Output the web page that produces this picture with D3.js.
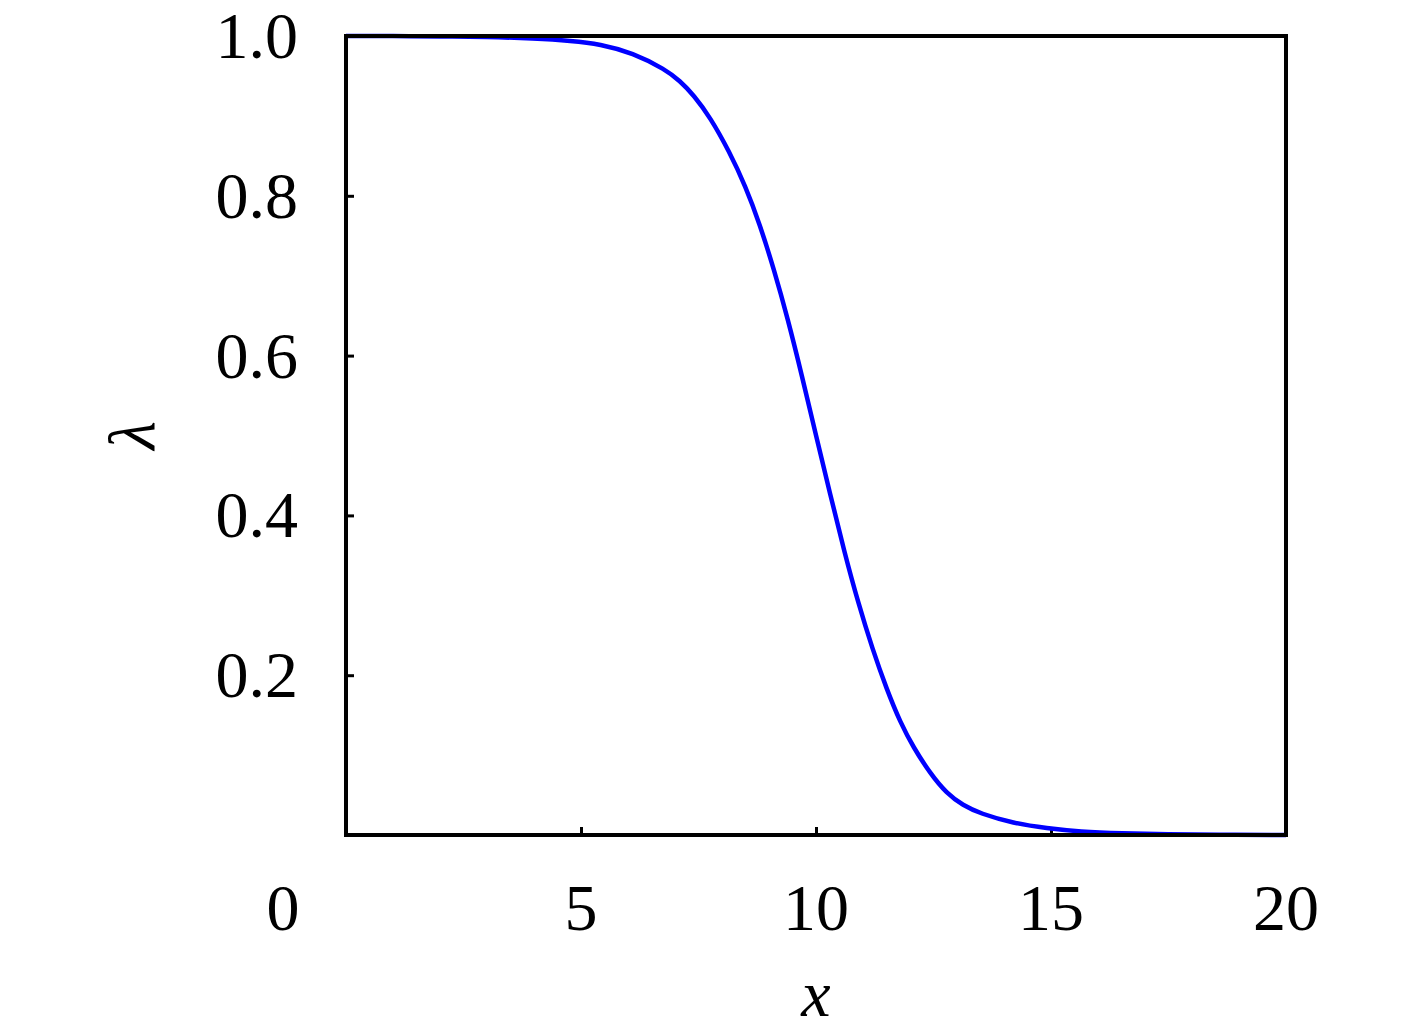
<!DOCTYPE html>
<html>
<head>
<meta charset="utf-8">
<script src="https://cdn.jsdelivr.net/npm/d3@7"></script>
<style>
  body { margin: 0; background: #fff; }
  text { font-family: "Liberation Serif", "DejaVu Serif", serif; fill: #000; }
</style>
</head>
<body>
<div class="chart"></div>
<script>
// values
const xValues = [0, 1, 2, 3, 4, 4.8, 5.4, 6.1, 6.8, 7.1, 7.4, 7.75, 8.15, 8.5, 8.8, 9.1, 9.4, 9.7,
                 10.0, 10.3, 10.6, 10.9, 11.2, 11.5, 11.8, 12.07, 12.43, 12.78, 13.13, 13.49,
                 14.2, 14.91, 15.62, 16.5, 17.5, 18.5, 20];
const lambdaValues = [1.0, 1.0, 0.9995, 0.999, 0.997, 0.994, 0.99, 0.979, 0.958, 0.944, 0.926, 0.898, 0.856,
                      0.812, 0.765, 0.709, 0.646, 0.575, 0.5, 0.427, 0.355, 0.29, 0.233, 0.183, 0.14,
                      0.11, 0.077, 0.052, 0.037, 0.027, 0.0146, 0.0084, 0.004, 0.002, 0.001, 0.0004, 0.0];
const xTicks = [5, 10, 15];
const xTickLabels = [0, 5, 10, 15, 20];
const yTicks = [0.2, 0.4, 0.6, 0.8];
const yTickLabels = [0.2, 0.4, 0.6, 0.8, 1.0];

const width = 1417, height = 1033;
const margin = {top: 36, right: 131, bottom: 198, left: 346};

const svg = d3.select(".chart").append("svg")
    .attr("width", width)
    .attr("height", height);

const xScale = d3.scaleLinear().domain([0, 20]).range([margin.left, width - margin.right]);
const yScale = d3.scaleLinear().domain([0, 1]).range([height - margin.bottom, margin.top]);

// tick marks pointing inward
svg.append("g")
    .attr("transform", "translate(0," + yScale(0) + ")")
    .call(d3.axisTop(xScale).tickValues(xTicks).tickSize(8).tickFormat(""))
    .call(g => g.select(".domain").remove())
    .selectAll("line").attr("stroke", "#000").attr("stroke-width", 3);

svg.append("g")
    .attr("transform", "translate(" + xScale(0) + ",0)")
    .call(d3.axisRight(yScale).tickValues(yTicks).tickSize(8).tickFormat(""))
    .call(g => g.select(".domain").remove())
    .selectAll("line").attr("stroke", "#000").attr("stroke-width", 3);

// curve
const line = d3.line()
    .x((d, i) => xScale(xValues[i]))
    .y(d => yScale(d))
    .curve(d3.curveBasis);

svg.append("path")
    .datum(lambdaValues)
    .attr("fill", "none")
    .attr("stroke", "#0000ff")
    .attr("stroke-width", 4.5)
    .attr("d", line);

// frame
svg.append("rect")
    .attr("x", xScale(0))
    .attr("y", yScale(1))
    .attr("width", xScale(20) - xScale(0))
    .attr("height", yScale(0) - yScale(1))
    .attr("fill", "none")
    .attr("stroke", "#000")
    .attr("stroke-width", 4);

// tick labels
svg.append("g").selectAll("text")
    .data(xTickLabels)
    .join("text")
    .attr("x", d => d === 0 ? xScale(d) - 63 : xScale(d))
    .attr("y", yScale(0) + 95)
    .attr("text-anchor", "middle")
    .attr("font-size", 66)
    .text(d => d);

svg.append("g").selectAll("text")
    .data(yTickLabels)
    .join("text")
    .attr("x", xScale(0) - 48)
    .attr("y", d => yScale(d) + 22)
    .attr("text-anchor", "end")
    .attr("font-size", 66)
    .text(d => d3.format(".1f")(d));

// axis titles
svg.append("text")
    .attr("x", (xScale(0) + xScale(20)) / 2)
    .attr("y", 1016)
    .attr("text-anchor", "middle")
    .attr("font-size", 66)
    .attr("font-style", "italic")
    .text("x");

svg.append("text")
    .attr("transform", "translate(154," + yScale(0.5) + ") rotate(-90)")
    .attr("text-anchor", "middle")
    .attr("font-size", 66)
    .attr("font-style", "italic")
    .text("λ");
</script>
</body>
</html>
